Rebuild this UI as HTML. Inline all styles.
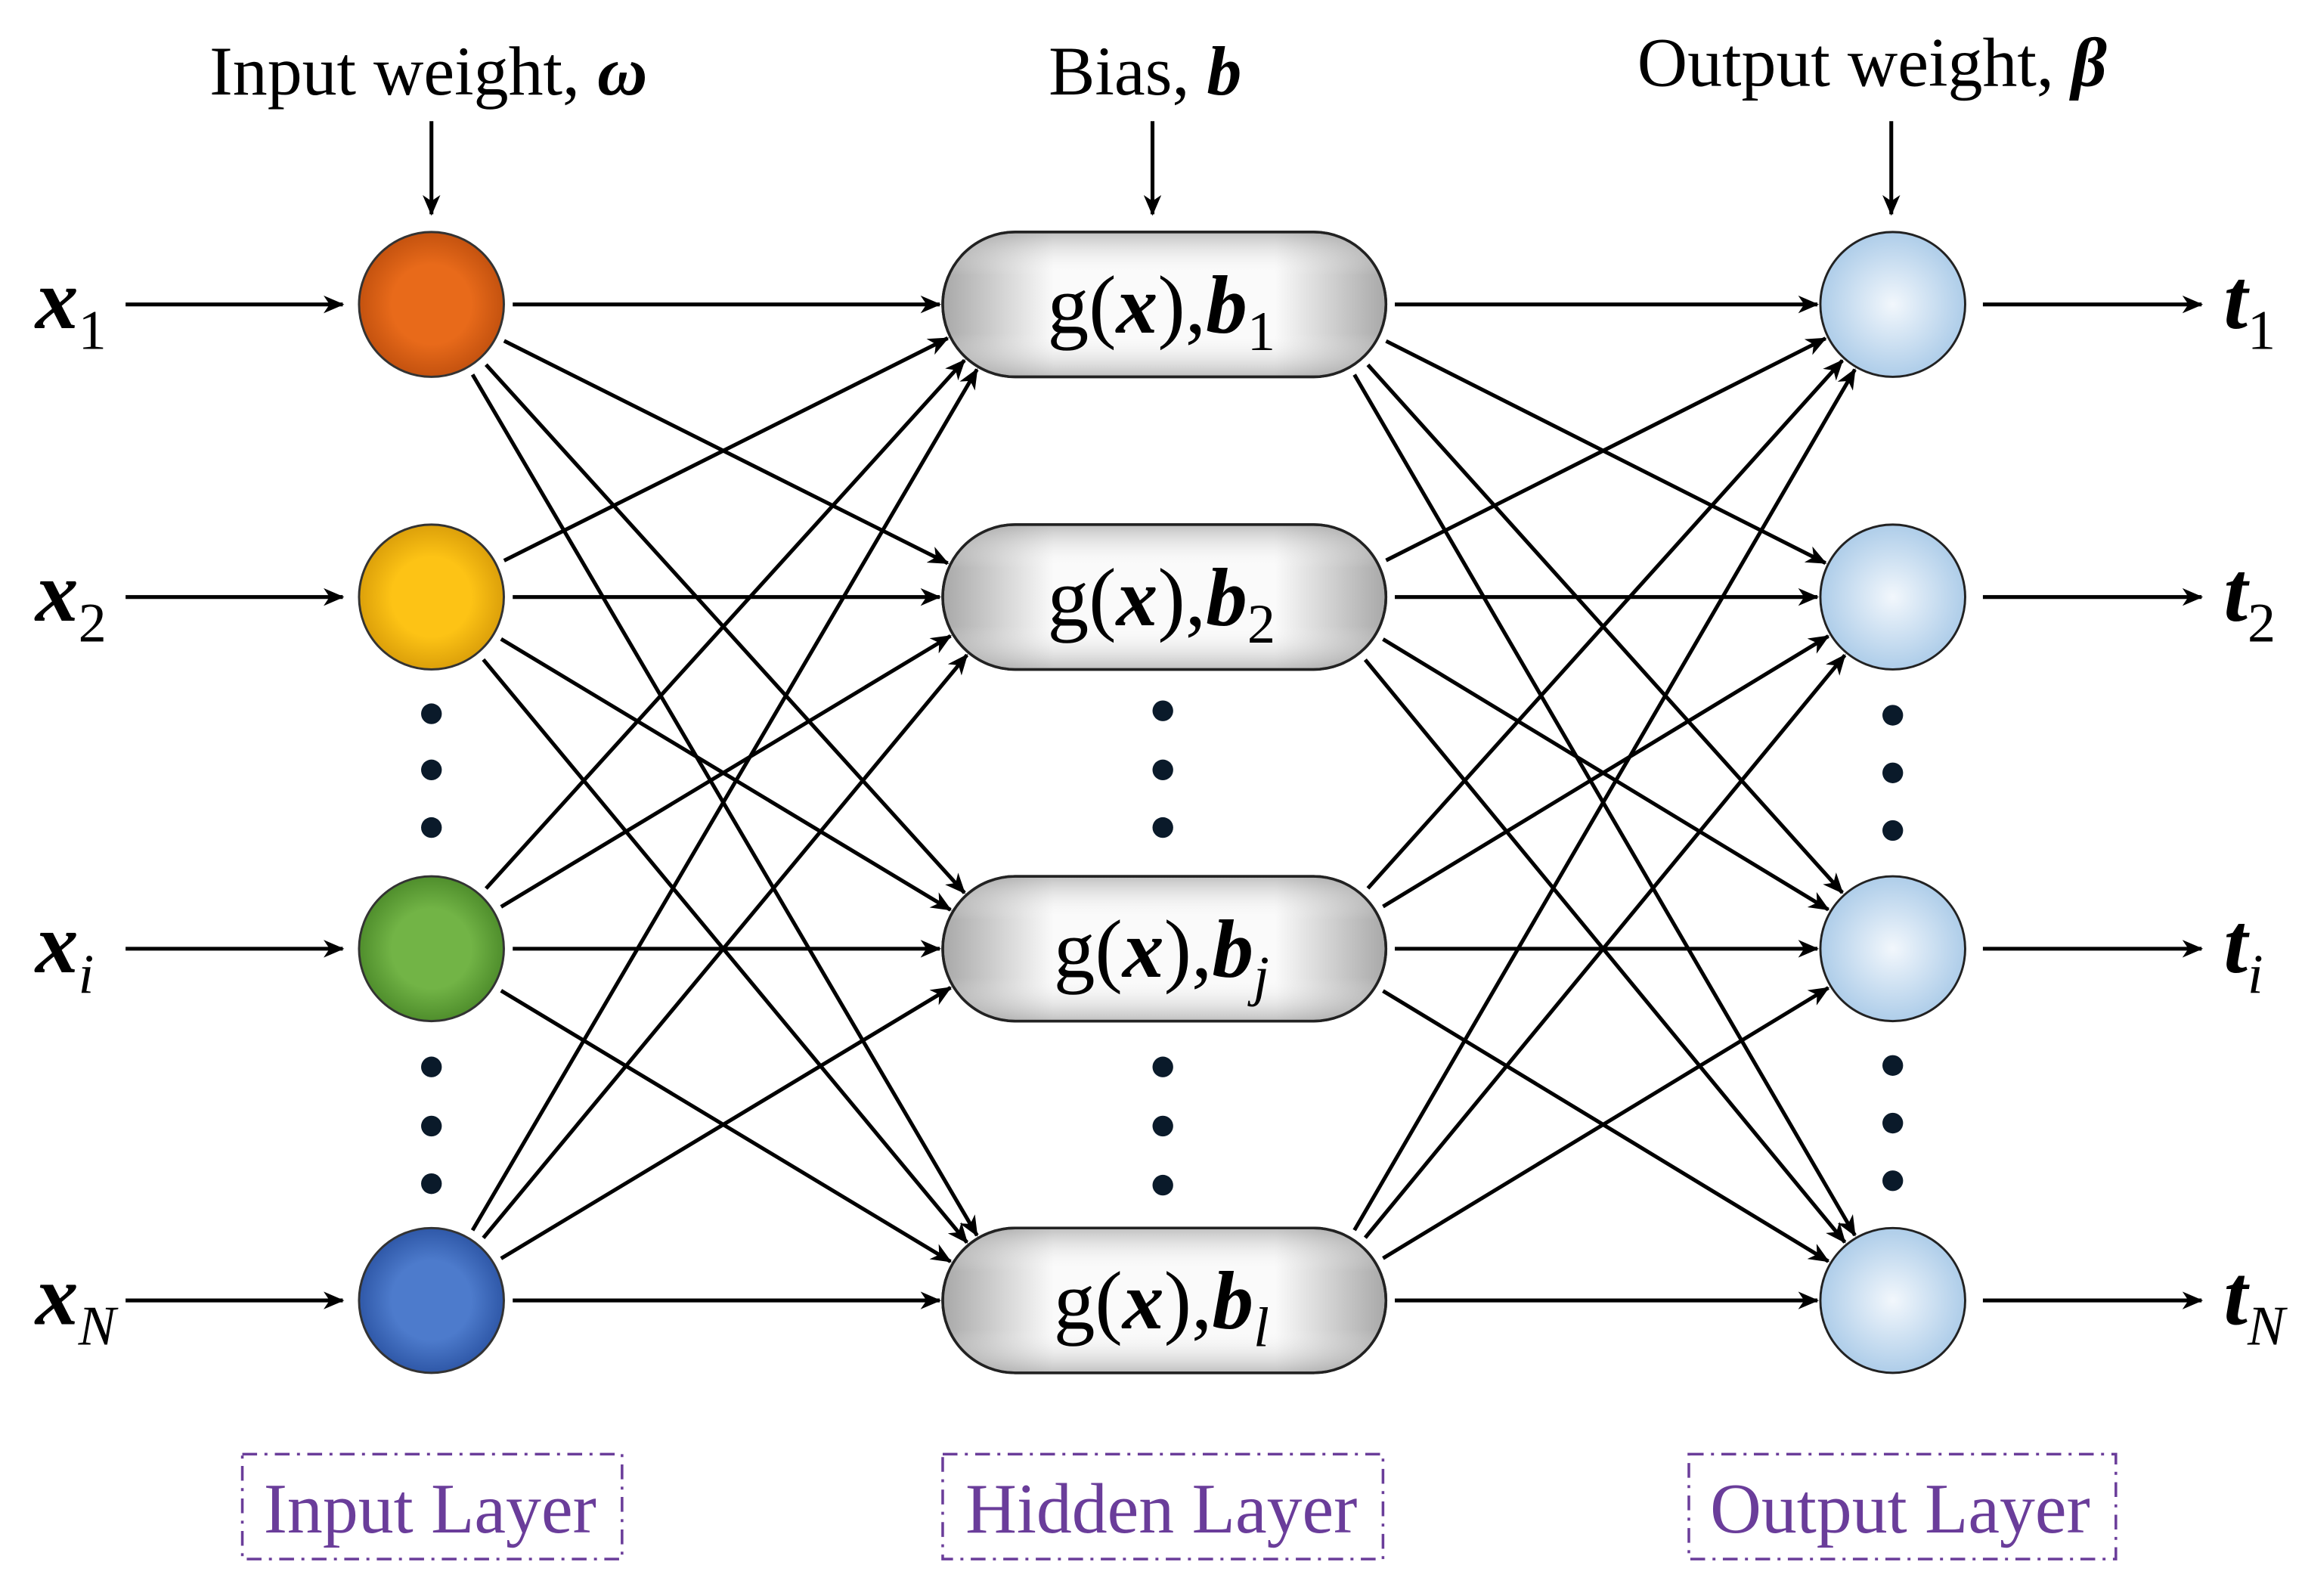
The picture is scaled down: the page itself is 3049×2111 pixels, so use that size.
<!DOCTYPE html>
<html><head><meta charset="utf-8"><style>
html,body{margin:0;padding:0;background:#fff;width:3049px;height:2111px;overflow:hidden}
svg{display:block}
text{font-family:"Liberation Serif","Times New Roman",serif}
</style></head><body>
<svg id="s" width="3049" height="2111" viewBox="0 0 1560 1080" preserveAspectRatio="none" xmlns="http://www.w3.org/2000/svg" font-family="Liberation Serif, serif">
<defs>
<marker id="ah" viewBox="0 0 14 12" refX="13" refY="6" markerWidth="14" markerHeight="12" markerUnits="userSpaceOnUse" orient="auto">
<path d="M0,0 L14,6 L0,12 L4,6 z" fill="#000"/></marker>
<radialGradient id="g1"><stop offset="0.55" stop-color="#e86a1a"/><stop offset="1" stop-color="#c4520f"/></radialGradient>
<radialGradient id="g2"><stop offset="0.55" stop-color="#fdc315"/><stop offset="1" stop-color="#dca00a"/></radialGradient>
<radialGradient id="g3"><stop offset="0.55" stop-color="#72b446"/><stop offset="1" stop-color="#4f8e2c"/></radialGradient>
<radialGradient id="g4"><stop offset="0.55" stop-color="#4d7bcc"/><stop offset="1" stop-color="#2f58a8"/></radialGradient>
<radialGradient id="go"><stop offset="0" stop-color="#f2f7fc"/><stop offset="1" stop-color="#aecde9"/></radialGradient>
<linearGradient id="gh" x1="0" y1="0" x2="1" y2="0"><stop offset="0" stop-color="#a8a8a8"/><stop offset="0.25" stop-color="#fafafa"/><stop offset="0.75" stop-color="#fafafa"/><stop offset="1" stop-color="#a8a8a8"/></linearGradient>
<linearGradient id="gv" x1="0" y1="0" x2="0" y2="1"><stop offset="0" stop-color="#999" stop-opacity="0.6"/><stop offset="0.3" stop-color="#fff" stop-opacity="0"/><stop offset="0.7" stop-color="#fff" stop-opacity="0"/><stop offset="1" stop-color="#999" stop-opacity="0.6"/></linearGradient>
</defs>
<g id="lines" stroke="#000" stroke-width="2.6" fill="none"></g>
<g id="nodes"></g>
<g font-size="47">
<text x="290" y="64" text-anchor="middle">Input weight, <tspan font-weight="bold" font-style="italic">ω</tspan></text>
<text x="775" y="64" text-anchor="middle">Bias, <tspan font-weight="bold" font-style="italic">b</tspan></text>
<text x="1267" y="58" text-anchor="middle">Output weight, <tspan font-weight="bold" font-style="italic">β</tspan></text>
</g>
<g font-size="48" fill="#6a3d9a">
<rect x="164" y="984" width="257" height="71" fill="none" stroke="#6a3d9a" stroke-width="1.8" stroke-dasharray="10,5,2,5"/>
<rect x="638" y="984" width="298" height="71" fill="none" stroke="#6a3d9a" stroke-width="1.8" stroke-dasharray="10,5,2,5"/>
<rect x="1143" y="984" width="289" height="71" fill="none" stroke="#6a3d9a" stroke-width="1.8" stroke-dasharray="10,5,2,5"/>
<text x="291" y="1037" text-anchor="middle">Input Layer</text>
<text x="786" y="1037" text-anchor="middle">Hidden Layer</text>
<text x="1286" y="1037" text-anchor="middle">Output Layer</text>
</g>
</svg>
<script>
var NS="http://www.w3.org/2000/svg";
var L=document.getElementById('lines'),N=document.getElementById('nodes');
function el(p,t,a,txt){var e=document.createElementNS(NS,t);for(var k in a)e.setAttribute(k,a[k]);if(txt)e.innerHTML=txt;p.appendChild(e);return e;}
function line(x1,y1,x2,y2){el(L,'line',{x1:x1,y1:y1,x2:x2,y2:y2,'marker-end':'url(#ah)'});}
var ys=[206,404,642,880],R=49;
line(292,82,292,145);line(780,82,780,145);line(1280,82,1280,145);
for(var i=0;i<4;i++){line(85,ys[i],232,ys[i]);line(1342,ys[i],1490,ys[i]);}
for(var i=0;i<4;i++)for(var j=0;j<4;j++){
 var sx=292,sy=ys[i],cx=687,cy=ys[j];var dx=cx-sx,dy=cy-sy,d=Math.hypot(dx,dy);
 var ux=dx/d,uy=dy/d;line(sx+ux*(R+6),sy+uy*(R+6),cx-ux*(R+2),cy-uy*(R+2));}
for(var i=0;i<4;i++)for(var j=0;j<4;j++){
 var sx=889,sy=ys[i],cx=1281,cy=ys[j];var dx=cx-sx,dy=cy-sy,d=Math.hypot(dx,dy);
 var ux=dx/d,uy=dy/d;line(sx+ux*(R+6),sy+uy*(R+6),cx-ux*(R+2),cy-uy*(R+2));}
var gs=['g1','g2','g3','g4'];
var xs=['1','2','<tspan font-style="italic">i</tspan>','<tspan font-style="italic">N</tspan>'];
var hs=['1','2','<tspan font-style="italic">j</tspan>','<tspan font-style="italic">l</tspan>'];
for(var i=0;i<4;i++){
 var y=ys[i];
 el(N,'circle',{cx:292,cy:y,r:R,fill:'url(#'+gs[i]+')',stroke:'#333','stroke-width':1.5});
 el(N,'rect',{x:638,y:y-49,width:300,height:98,rx:49,fill:'url(#gh)',stroke:'#222','stroke-width':1.8});
 el(N,'rect',{x:638,y:y-49,width:300,height:98,rx:49,fill:'url(#gv)',stroke:'#222','stroke-width':1.8});
 el(N,'circle',{cx:1281,cy:y,r:R,fill:'url(#go)',stroke:'#222','stroke-width':1.5});
 el(N,'text',{x:786,y:y+19,'font-size':56,'text-anchor':'middle'},'g(<tspan font-weight="bold" font-style="italic">x</tspan>),<tspan font-weight="bold" font-style="italic">b</tspan><tspan font-size="38" dy="12">'+hs[i]+'</tspan>');
 el(N,'text',{x:24,y:y+16,'font-size':58},'<tspan font-weight="bold" font-style="italic">x</tspan><tspan font-size="38" dy="14">'+xs[i]+'</tspan>');
 el(N,'text',{x:1505,y:y+16,'font-size':58},'<tspan font-weight="bold" font-style="italic">t</tspan><tspan font-size="38" dy="14">'+xs[i]+'</tspan>');
}
var dots=[[292,[483,521,560,722,762,801]],[787,[481,521,560,722,762,802]],[1281,[484,523,562,721,760,799]]];
dots.forEach(function(d){d[1].forEach(function(y){el(N,'circle',{cx:d[0],cy:y,r:7,fill:'#0a1a2a'});});});
</script>
</body></html>
